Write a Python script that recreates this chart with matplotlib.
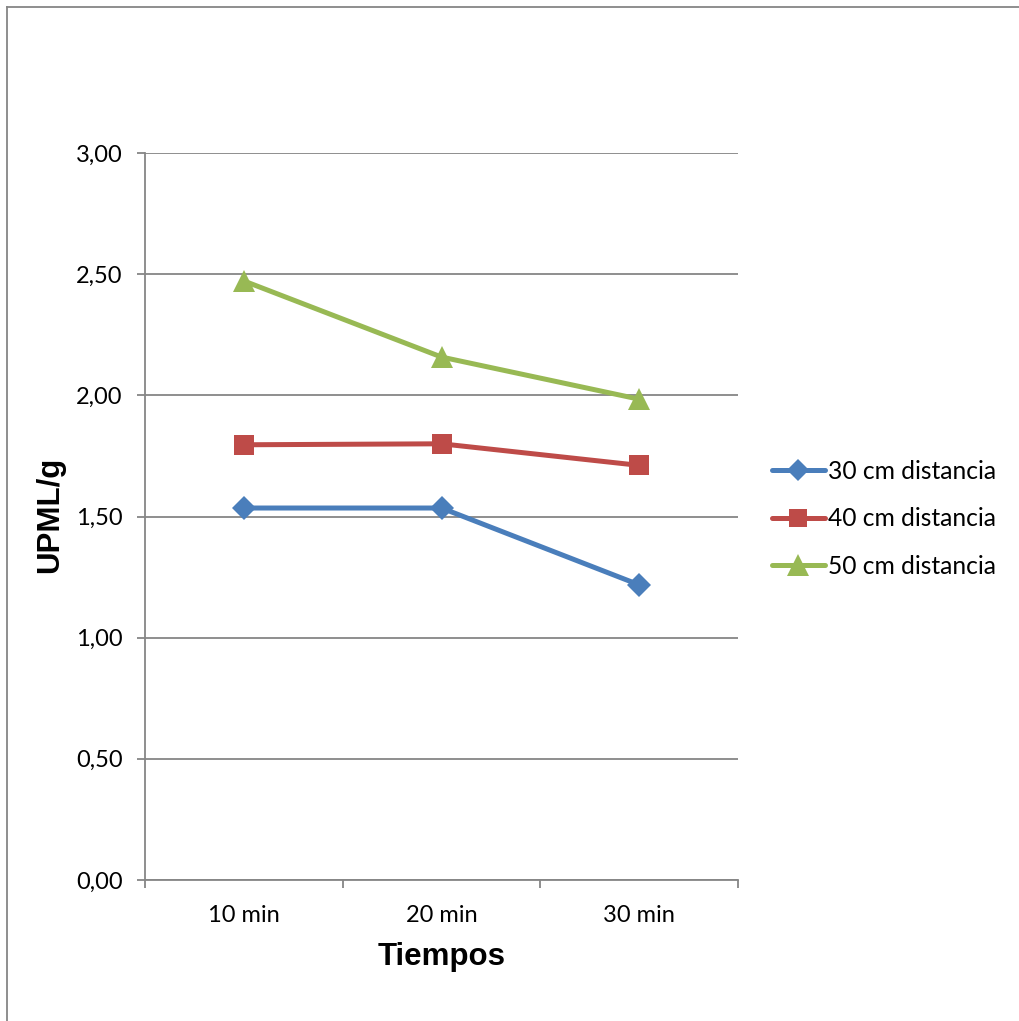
import matplotlib.pyplot as plt
from matplotlib.lines import Line2D

# data
tiempos = ["10 min", "20 min", "30 min"]
dist_30 = [1.535, 1.535, 1.218]
dist_40 = [1.796, 1.800, 1.711]
dist_50 = [2.472, 2.158, 1.984]
series_names = ["30 cm distancia", "40 cm distancia", "50 cm distancia"]
y_ticks = [0.0, 0.5, 1.0, 1.5, 2.0, 2.5, 3.0]

W, H = 1019, 1021
fig = plt.figure(figsize=(W / 100, H / 100), dpi=100)
ax = fig.add_axes([145 / W, 1 - 880 / H, 593 / W, 727 / H])

grid_col = "#868686"
tick_font = "Lato"

x = [1, 2, 3]
styles = [
    (dist_30, "#4A7EBB", "D", 12),
    (dist_40, "#BE4B48", "s", 14),
    (dist_50, "#98B954", "^", 16),
]
for (vals, col, mk, ms), name in zip(styles, series_names):
    ax.plot(x, vals, color=col, lw=3.6, marker=mk, markersize=ms,
            markeredgewidth=0, label=name, solid_capstyle="round", zorder=3)

ax.set_xlim(0.5, 3.5)
ax.set_ylim(0, 3.0)
ax.set_yticks(y_ticks)
ax.set_yticklabels([f"{v:.2f}".replace(".", ",") for v in y_ticks],
                   fontsize=17, family=tick_font)
ax.yaxis.grid(True, color=grid_col, lw=1.3)
ax.set_axisbelow(True)

ax.set_xticks(x)
ax.set_xticklabels(tiempos, fontsize=17, family=tick_font)
ax.set_xticks([0.5, 1.5, 2.5, 3.5], minor=True)
ax.tick_params(axis="x", which="major", length=0, pad=18)
ax.tick_params(axis="x", which="minor", length=6, width=1.3, color=grid_col, direction="out")
ax.tick_params(axis="y", length=6, width=1.3, color=grid_col, direction="out", pad=10)

for s in ["top", "right"]:
    ax.spines[s].set_visible(False)
for s in ["left", "bottom"]:
    ax.spines[s].set_color(grid_col)
    ax.spines[s].set_linewidth(1.3)

fig.text(442 / W, 1 - 957 / H, "Tiempos", ha="center", va="center",
         fontsize=22.5, fontweight="bold", family="Liberation Sans")
fig.text(50 / W, 1 - 515 / H, "UPML/g", ha="center", va="center", rotation=90,
         fontsize=22.5, fontweight="bold", family="Liberation Sans")

ax.legend(loc="upper left", bbox_to_anchor=(762 / W, 1 - 450 / H),
          bbox_transform=fig.transFigure, frameon=False,
          prop={"family": tick_font, "size": 17.7},
          handlelength=2.15, handletextpad=0.15, labelspacing=1.0,
          borderaxespad=0, markerscale=0.95)

# chart area border (left and top edges visible)
fig.add_artist(Line2D([6.5 / W, 6.5 / W], [0, 1 - 7 / H], color=grid_col, lw=1.3))
fig.add_artist(Line2D([6.5 / W, 1], [1 - 7 / H, 1 - 7 / H], color=grid_col, lw=1.3))

fig.savefig("out.png", dpi=100, facecolor="white")
